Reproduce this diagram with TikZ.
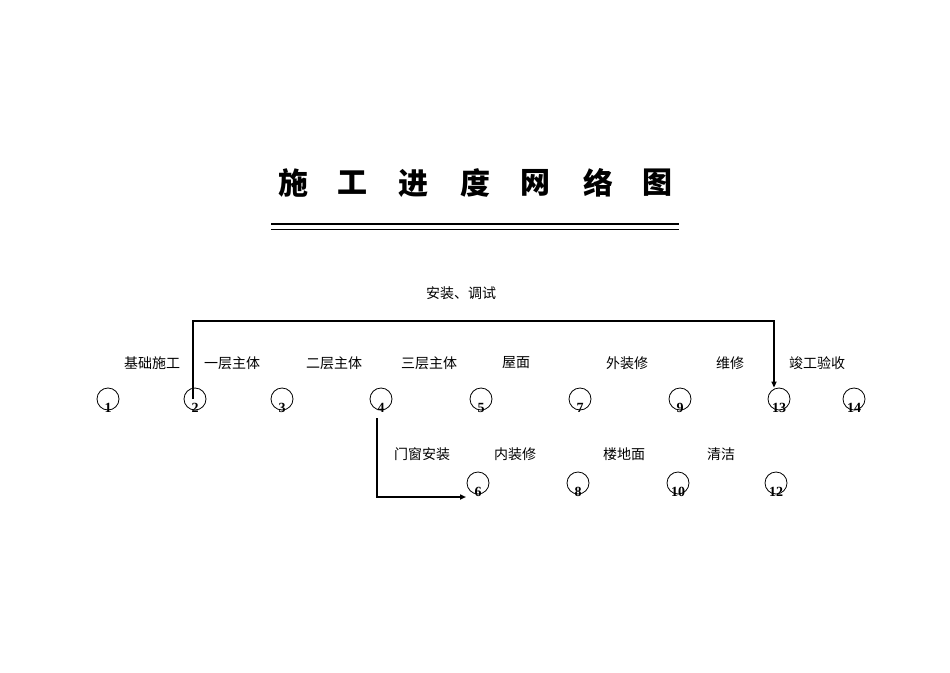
\documentclass[tikz,border=0pt]{standalone}
\usepackage{fontspec}
\newfontfamily\cjk{Noto Sans CJK SC}
\setmainfont{Liberation Serif}
\usetikzlibrary{arrows.meta}
\begin{document}
\begin{tikzpicture}[x=1pt,y=-1pt,
  ev/.style={circle,draw,line width=0.8pt,minimum size=22pt,inner sep=0pt},
  num/.style={font=\bfseries\fontsize{14}{14}\selectfont},
  lab/.style={font=\cjk\fontsize{14}{14}\selectfont},
  ttl/.style={font=\cjk\bfseries\fontsize{30}{30}\selectfont},
  arr/.style={line width=1.6pt,-{Triangle[length=6pt,width=5pt]}}]
\useasboundingbox (0,0) rectangle (950,672);
% title
\foreach \c/\x in {施/293,工/352,进/413,度/475,网/535,络/598,图/657}
  \node[ttl] at (\x,183) {\c};
\draw[line width=2pt] (271,224) -- (679,224);
\draw[line width=1pt] (271,229) -- (679,229);
% nodes
\foreach \n/\x/\y in {1/108/399,2/195/399,3/282/399,4/381/399,5/481/399,7/580/399,9/680/399,13/779/399,14/854/399,6/478/483,8/578/483,10/678/483,12/776/483}{
  \node[ev] (n\n) at (\x,\y) {};
  \node[num] (t\n) at (\x,\y+9) {\n};
}
% labels
\node[lab] (a) at (461,293) {安装、调试};
\node[lab] (b1) at (152,363) {基础施工};
\node[lab] (b2) at (232,363) {一层主体};
\node[lab] (b3) at (334,363) {二层主体};
\node[lab] (b4) at (429,363) {三层主体};
\node[lab] (b5) at (516,363) {屋面};
\node[lab] (b7) at (627,363) {外装修};
\node[lab] (b9) at (730,363) {维修};
\node[lab] (b13) at (817,363) {竣工验收};
\node[lab] (c4) at (422,454) {门窗安装};
\node[lab] (c6) at (515,454) {内装修};
\node[lab] (c8) at (624,454) {楼地面};
\node[lab] (c10) at (721,454) {清洁};
% connectors
\coordinate (p1) at (193,321);
\coordinate (p2) at (774,321);
\draw[arr] ([xshift=-2pt]n2.center) -- (p1) -- (p2) -- (p2 |- n13.north);
\coordinate (q1) at (377,497);
\draw[arr] (377,418) -- (q1) -- (466,497);
\end{tikzpicture}
\end{document}
